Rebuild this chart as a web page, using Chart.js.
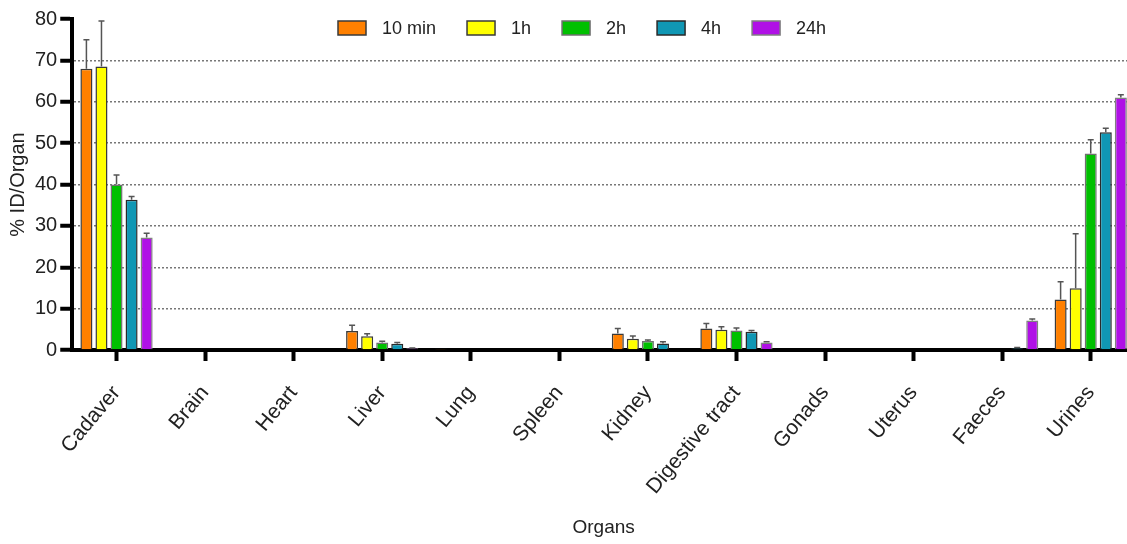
<!DOCTYPE html>
<html>
<head>
<meta charset="utf-8">
<script src="https://cdn.jsdelivr.net/npm/chart.js@4/dist/chart.umd.min.js"></script>
<style>
  html, body { margin: 0; padding: 0; background: #fff; overflow: hidden; }
  #wrap { width: 1135px; height: 544px; }
</style>
</head>
<body>
<div id="wrap"><canvas id="myChart"></canvas></div>
<script>
const organs = ["Cadaver", "Brain", "Heart", "Liver", "Lung", "Spleen", "Kidney",
  "Digestive tract", "Gonads", "Uterus", "Faeces", "Urines"];
const seriesNames = ["10 min", "1h", "2h", "4h", "24h"];

const min10 = [68.0, 0, 0, 4.6, 0.3, 0, 4.0, 5.2, 0, 0, 0, 12.2];
const h1 = [68.5, 0, 0, 3.3, 0, 0, 2.7, 4.9, 0, 0, 0, 14.9];
const h2 = [40.0, 0, 0, 1.8, 0, 0, 2.2, 4.7, 0, 0, 0, 47.5];
const h4 = [36.3, 0, 0, 1.5, 0, 0, 1.6, 4.4, 0, 0, 0.4, 52.6];
const h24 = [27.2, 0, 0, 0.4, 0, 0, 0, 1.8, 0, 0, 7.1, 61.0];

const min10Err = [7.0, 0, 0, 1.4, 0, 0, 1.2, 1.2, 0, 0, 0, 4.3];
const h1Err = [11.0, 0, 0, 0.6, 0, 0, 0.7, 0.7, 0, 0, 0, 13.2];
const h2Err = [2.3, 0, 0, 0.3, 0, 0, 0.2, 0.6, 0, 0, 0, 3.3];
const h4Err = [0.8, 0, 0, 0.3, 0, 0, 0.4, 0.3, 0, 0, 0.2, 1.0];
const h24Err = [1.0, 0, 0, 0.1, 0, 0, 0, 0.2, 0, 0, 0.4, 0.7];

const yTicks = [0, 10, 20, 30, 40, 50, 60, 70, 80];

const fills = ["#ff8000", "#ffff00", "#00c000", "#1097b4", "#b010e6"];
const edges = ["#3a3a3a", "#3a3a3a", "#707070", "#2a2a2a", "#808080"];

Chart.defaults.font.family = "'Liberation Sans', Arial, sans-serif";
Chart.defaults.color = "#222";

const values = [min10, h1, h2, h4, h24];
const errors = [min10Err, h1Err, h2Err, h4Err, h24Err];

// error bars on top of each bar
const errorBars = {
  id: "errorBars",
  afterDatasetsDraw(chart) {
    const ctx = chart.ctx;
    const y = chart.scales.y;
    chart.data.datasets.forEach((ds, i) => {
      const meta = chart.getDatasetMeta(i);
      meta.data.forEach((bar, j) => {
        const e = ds.errors[j];
        if (!e) return;
        const top = y.getPixelForValue(ds.data[j] + e);
        ctx.save();
        ctx.strokeStyle = "#555";
        ctx.lineWidth = 1.5;
        ctx.beginPath();
        ctx.moveTo(bar.x, bar.y);
        ctx.lineTo(bar.x, top);
        ctx.moveTo(bar.x - 3, top);
        ctx.lineTo(bar.x + 3, top);
        ctx.stroke();
        ctx.restore();
      });
    });
  }
};

// legend row over the top of the plot
const topLegend = {
  id: "topLegend",
  afterDraw(chart) {
    const ctx = chart.ctx;
    ctx.save();
    ctx.font = "18px 'Liberation Sans', Arial, sans-serif";
    ctx.textBaseline = "middle";
    let x = 338;
    const yMid = 28;
    chart.data.datasets.forEach((ds) => {
      ctx.fillStyle = ds.backgroundColor;
      ctx.fillRect(x, yMid - 7, 28, 14);
      ctx.strokeStyle = ds.borderColor;
      ctx.lineWidth = 1.5;
      ctx.strokeRect(x, yMid - 7, 28, 14);
      x += 28 + 16;
      ctx.fillStyle = "#222";
      ctx.fillText(ds.label, x, yMid + 1);
      x += ctx.measureText(ds.label).width + 31;
    });
    ctx.restore();
  }
};

new Chart(document.getElementById("myChart"), {
  type: "bar",
  data: {
    labels: organs,
    datasets: seriesNames.map((name, i) => ({
      label: name,
      data: values[i],
      errors: errors[i],
      backgroundColor: fills[i],
      borderColor: edges[i],
      borderWidth: 1.5,
      barPercentage: 0.8,
      categoryPercentage: 0.85
    }))
  },
  options: {
    responsive: true,
    maintainAspectRatio: false,
    animation: false,
    layout: { padding: { left: 0, top: 19, right: 0, bottom: 2 } },
    plugins: {
      legend: { display: false },
      tooltip: { enabled: false }
    },
    scales: {
      x: {
        afterFit(scale) {
          scale.height = 192;
        },
        grid: {
          offset: false,
          drawOnChartArea: false,
          tickLength: 11,
          tickWidth: 4,
          tickColor: "#000"
        },
        border: { color: "#000", width: 4 },
        ticks: {
          minRotation: 50,
          maxRotation: 50,
          padding: 20,
          font: { size: 21 },
          color: "#222"
        },
        title: {
          display: true,
          text: "Organs",
          font: { size: 19 },
          color: "#222",
          padding: { top: 4, bottom: 3 }
        }
      },
      y: {
        min: 0,
        max: 80,
        afterBuildTicks(scale) {
          scale.ticks = yTicks.map((v) => ({ value: v }));
        },
        grid: {
          color: (c) => (c.tick && c.tick.value > 0 && c.tick.value < 80 ? "#777" : "rgba(0,0,0,0)"),
          lineWidth: 1.5,
          tickLength: 12,
          tickWidth: 4,
          tickColor: "#000",
          tickBorderDash: []
        },
        border: { color: "#000", width: 4, dash: [2, 2] },
        ticks: {
          padding: 3,
          font: { size: 20 },
          color: "#222"
        },
        title: {
          display: true,
          text: "% ID/Organ",
          font: { size: 20 },
          color: "#222",
          padding: { top: 6, bottom: 2 }
        }
      }
    }
  },
  plugins: [errorBars, topLegend]
});
</script>
</body>
</html>
